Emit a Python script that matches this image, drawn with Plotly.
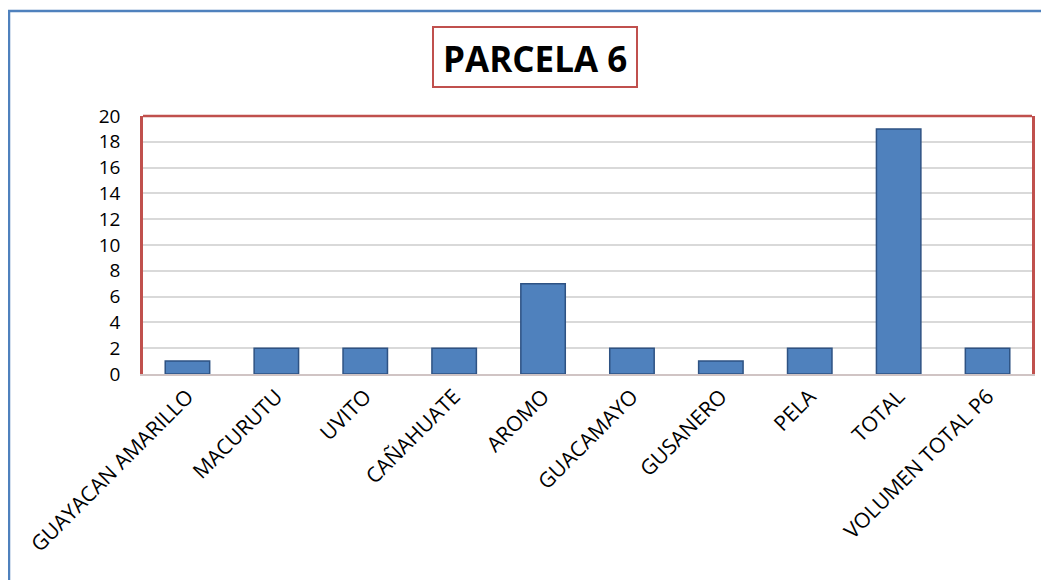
import plotly.graph_objects as go

categories = ["GUAYACAN AMARILLO", "MACURUTU", "UVITO", "CAÑAHUATE", "AROMO",
              "GUACAMAYO", "GUSANERO", "PELA", "TOTAL", "VOLUMEN TOTAL P6"]
values = [1, 2, 2, 2, 7, 2, 1, 2, 19, 2]
y_ticks = list(range(0, 21, 2))
title_text = "PARCELA 6"

# page has an 8px body margin, so work in reference pixels minus the offset
OFF = 8
W, H = 1049 - OFF, 580 - OFF
L, R, T = 143 - OFF, 17, 116 - OFF
B = H - (374 - OFF)
pw, ph = W - L - R, H - T - B


def px(x):
    return (x - OFF - L) / pw


def py(y):
    return (H - B - (y - OFF)) / ph


fig = go.Figure(go.Bar(
    x=categories, y=values, width=0.5,
    marker=dict(color="#4F81BD", line=dict(color="#2E5283", width=1.5)),
))

fig.update_layout(
    width=W, height=H,
    margin=dict(l=L, r=R, t=T, b=B),
    paper_bgcolor="white", plot_bgcolor="white",
    font=dict(family="Open Sans", color="black"),
    showlegend=False,
    shapes=[
        # outer chart frame
        dict(type="rect", xref="paper", yref="paper",
             x0=px(9), x1=px(1080), y0=py(11), y1=py(620),
             line=dict(color="#4F81BD", width=2.5), layer="below"),
        # title box
        dict(type="rect", xref="paper", yref="paper",
             x0=px(433), x1=px(637), y0=py(27), y1=py(87),
             line=dict(color="#C0504D", width=2)),
        # plot area top border
        dict(type="line", xref="paper", yref="paper",
             x0=0, x1=1, y0=1, y1=1,
             line=dict(color="#C0504D", width=2.5)),
    ],
    annotations=[
        dict(text="<b>" + title_text + "</b>", xref="paper", yref="paper",
             x=px(535), y=py(58), showarrow=False,
             font=dict(size=35, color="black"),
             xanchor="center", yanchor="middle"),
    ],
)

fig.update_yaxes(
    range=[0, 20], tickvals=y_ticks,
    showgrid=True, gridcolor="#D9D9D9", gridwidth=1.5,
    showline=True, linecolor="#C0504D", linewidth=2.5, mirror=True,
    zeroline=False, ticks="", ticklabelstandoff=16,
    tickfont=dict(size=19),
)
fig.update_xaxes(
    tickangle=-45, tickfont=dict(size=21),
    showline=True, linecolor="#D0C4C4", linewidth=2,
    showgrid=False, ticks="",
)

fig.write_html("out.html")
